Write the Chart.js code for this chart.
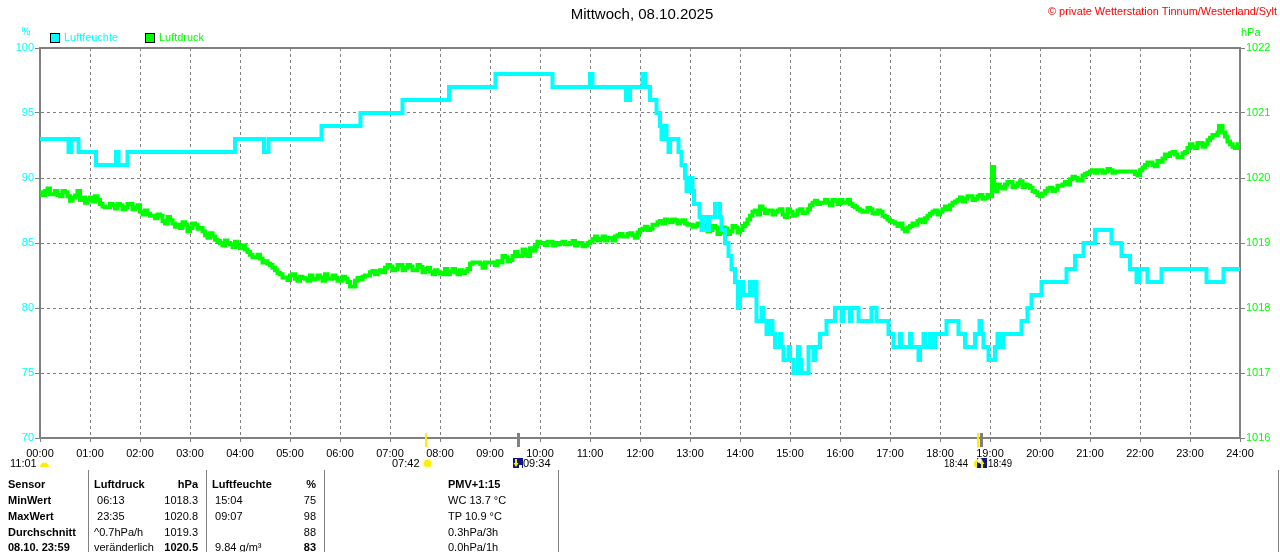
<!DOCTYPE html>
<html>
<head>
<meta charset="utf-8">
<script src="https://cdn.jsdelivr.net/npm/chart.js@4/dist/chart.umd.min.js"></script>
<style>
  html, body { margin: 0; padding: 0; background: #fff; overflow: hidden; }
  canvas { display: block; }
</style>
</head>
<body>
<canvas id="chart" width="1280" height="552"></canvas>
<script>
// Luftfeuchte (%) – change points, value holds until the next time
const humTime = [0, 0.57, 0.63, 0.77, 1.12, 1.52, 1.57, 1.75, 3.9, 4.48, 4.57, 5.63, 6.41, 7.25, 8.18, 9.11, 10.25, 11.0, 11.05, 11.72, 11.8, 12.05, 12.1,
  12.2, 12.33, 12.4, 12.43, 12.5, 12.53, 12.57, 12.6, 12.77, 12.83, 12.9, 12.93, 12.99, 13.05, 13.08, 13.19, 13.23, 13.27, 13.36, 13.38, 13.5, 13.6,
  13.63, 13.7, 13.77, 13.83, 13.9, 13.96, 14.0, 14.03, 14.07, 14.2, 14.23, 14.3, 14.33, 14.43, 14.47, 14.53, 14.6, 14.65, 14.7, 14.8, 14.83, 14.87,
  14.97, 15.0, 15.07, 15.16, 15.19, 15.23, 15.28, 15.37, 15.47, 15.5, 15.6, 15.73, 15.9, 16.03, 16.06, 16.2, 16.23, 16.37, 16.63, 16.73, 16.97, 17.07,
  17.2, 17.23, 17.4, 17.43, 17.57, 17.6, 17.67, 17.7, 17.8, 17.83, 17.9, 18.13, 18.37, 18.5, 18.7, 18.79, 18.83, 18.87, 18.97, 19.1, 19.15, 19.2,
  19.27, 19.63, 19.75, 19.83, 20.03, 20.53, 20.7, 20.87, 21.1, 21.43, 21.63, 21.8, 21.93, 21.99, 22.15, 22.43, 23.33, 23.67, 24];
const humValue = [93, 92, 93, 92, 91, 92, 91, 92, 93, 92, 93, 94, 95, 96, 97, 98, 97, 98, 97, 96, 97, 98, 97,
  96, 95, 94, 93, 94, 93, 92, 93, 92, 91, 90, 89, 90, 89, 88, 87, 86, 87, 86, 87, 88, 87,
  86, 85, 84, 83, 82, 80, 81, 82, 81, 82, 81, 82, 79, 80, 79, 78, 79, 78, 77, 78, 77, 76,
  77, 76, 75, 77, 76, 75, 75, 77, 76, 77, 78, 79, 80, 79, 80, 79, 80, 79, 80, 79, 78, 77,
  78, 77, 78, 77, 76, 77, 78, 77, 78, 77, 78, 79, 78, 77, 78, 79, 78, 77, 76, 77, 78, 77,
  78, 79, 80, 81, 82, 83, 84, 85, 86, 85, 84, 83, 82, 83, 82, 83, 82, 83, 83];

// Luftdruck (hPa) – 6-Minuten-Werte
const presTime = [0, 0.1, 0.2, 0.3, 0.4, 0.5, 0.6, 0.7, 0.8, 0.9, 1.0, 1.1, 1.2, 1.3, 1.4, 1.5, 1.6, 1.7, 1.8, 1.9,
  2.0, 2.1, 2.2, 2.3, 2.4, 2.5, 2.6, 2.7, 2.8, 2.9, 3.0, 3.1, 3.2, 3.3, 3.4, 3.5, 3.6, 3.7, 3.8, 3.9,
  4.0, 4.1, 4.2, 4.3, 4.4, 4.5, 4.6, 4.7, 4.8, 4.9, 5.0, 5.1, 5.2, 5.3, 5.4, 5.5, 5.6, 5.7, 5.8, 5.9,
  6.0, 6.1, 6.2, 6.3, 6.4, 6.5, 6.6, 6.7, 6.8, 6.9, 7.0, 7.1, 7.2, 7.3, 7.4, 7.5, 7.6, 7.7, 7.8, 7.9,
  8.0, 8.1, 8.2, 8.3, 8.4, 8.5, 8.6, 8.7, 8.8, 8.9, 9.0, 9.1, 9.2, 9.3, 9.4, 9.5, 9.6, 9.7, 9.8, 9.9,
  10.0, 10.1, 10.2, 10.3, 10.4, 10.5, 10.6, 10.7, 10.8, 10.9, 11.0, 11.1, 11.2, 11.3, 11.4, 11.5, 11.6, 11.7, 11.8, 11.9,
  12.0, 12.1, 12.2, 12.3, 12.4, 12.5, 12.6, 12.7, 12.8, 12.9, 13.0, 13.1, 13.2, 13.3, 13.4, 13.5, 13.6, 13.7, 13.8, 13.9,
  14.0, 14.1, 14.2, 14.3, 14.4, 14.5, 14.6, 14.7, 14.8, 14.9, 15.0, 15.1, 15.2, 15.3, 15.4, 15.5, 15.6, 15.7, 15.8, 15.9,
  16.0, 16.1, 16.2, 16.3, 16.4, 16.5, 16.6, 16.7, 16.8, 16.9, 17.0, 17.1, 17.2, 17.3, 17.4, 17.5, 17.6, 17.7, 17.8, 17.9,
  18.0, 18.1, 18.2, 18.3, 18.4, 18.5, 18.6, 18.7, 18.8, 18.9, 19.0, 19.04, 19.08, 19.2, 19.3, 19.4, 19.5, 19.6, 19.7, 19.8, 19.9,
  20.0, 20.1, 20.2, 20.3, 20.4, 20.5, 20.6, 20.7, 20.8, 20.9, 21.0, 21.1, 21.2, 21.3, 21.4, 21.5, 21.6, 21.7, 21.8, 21.9,
  22.0, 22.1, 22.2, 22.3, 22.4, 22.5, 22.6, 22.7, 22.8, 22.9, 23.0, 23.1, 23.2, 23.3, 23.4, 23.5, 23.58, 23.7, 23.8, 23.9, 24.0];
const presValue = [1019.78, 1019.80, 1019.75, 1019.80, 1019.72, 1019.78, 1019.65, 1019.73, 1019.66, 1019.62, 1019.70, 1019.72, 1019.60, 1019.55, 1019.60, 1019.53, 1019.58, 1019.55, 1019.60, 1019.55,
  1019.48, 1019.50, 1019.42, 1019.38, 1019.42, 1019.30, 1019.35, 1019.25, 1019.23, 1019.28, 1019.23, 1019.28, 1019.23, 1019.12, 1019.15, 1019.05, 1019.00, 1019.04, 1018.98, 1019.02,
  1018.92, 1018.90, 1018.82, 1018.78, 1018.76, 1018.72, 1018.66, 1018.58, 1018.52, 1018.47, 1018.50, 1018.45, 1018.48, 1018.45, 1018.50, 1018.45, 1018.47, 1018.52, 1018.45, 1018.46,
  1018.42, 1018.45, 1018.33, 1018.42, 1018.44, 1018.50, 1018.55, 1018.52, 1018.58, 1018.62, 1018.64, 1018.60, 1018.66, 1018.62, 1018.64, 1018.58, 1018.63, 1018.60, 1018.56, 1018.58,
  1018.54, 1018.60, 1018.56, 1018.55, 1018.58, 1018.56, 1018.68, 1018.70, 1018.68, 1018.70, 1018.70, 1018.66, 1018.70, 1018.78, 1018.74, 1018.86, 1018.80, 1018.82, 1018.92, 1018.95,
  1019.00, 1018.97, 1019.02, 1019.00, 1019.00, 1018.98, 1019.00, 1018.96, 1019.00, 1018.97, 1019.02, 1019.10, 1019.06, 1019.04, 1019.08, 1019.10, 1019.14, 1019.10, 1019.15, 1019.08,
  1019.20, 1019.25, 1019.22, 1019.28, 1019.34, 1019.36, 1019.32, 1019.35, 1019.33, 1019.30, 1019.28, 1019.27, 1019.30, 1019.25, 1019.20, 1019.24, 1019.16, 1019.22, 1019.18, 1019.24,
  1019.20, 1019.30, 1019.42, 1019.50, 1019.56, 1019.46, 1019.50, 1019.48, 1019.52, 1019.40, 1019.48, 1019.44, 1019.52, 1019.47, 1019.58, 1019.65, 1019.62, 1019.66, 1019.58, 1019.65,
  1019.66, 1019.62, 1019.60, 1019.55, 1019.50, 1019.48, 1019.52, 1019.45, 1019.48, 1019.40, 1019.34, 1019.30, 1019.30, 1019.18, 1019.26, 1019.28, 1019.36, 1019.38, 1019.45, 1019.50,
  1019.48, 1019.56, 1019.58, 1019.64, 1019.70, 1019.68, 1019.72, 1019.68, 1019.74, 1019.70, 1019.72, 1020.17, 1019.80, 1019.86, 1019.90, 1019.94, 1019.88, 1019.95, 1019.90, 1019.85, 1019.78,
  1019.72, 1019.80, 1019.85, 1019.82, 1019.88, 1019.94, 1019.98, 1020.00, 1019.96, 1020.06, 1020.10, 1020.08, 1020.12, 1020.10, 1020.12, 1020.10, 1020.10, 1020.10, 1020.10, 1020.06,
  1020.12, 1020.20, 1020.24, 1020.18, 1020.25, 1020.36, 1020.38, 1020.36, 1020.32, 1020.40, 1020.52, 1020.46, 1020.54, 1020.52, 1020.62, 1020.66, 1020.80, 1020.64, 1020.52, 1020.46, 1020.50];

// Luftdruck – Zwischenwerte (Zacken zwischen den 6-Minuten-Werten)
const presJitterTime = [0.05, 0.15, 0.35, 0.45, 0.55, 0.65, 0.75, 0.85, 0.95, 1.05, 1.15, 1.25, 1.45, 1.55, 1.65, 1.75, 1.85, 1.95,
  2.05, 2.15, 2.35, 2.45, 2.55, 2.65, 2.75, 2.85, 2.95, 3.05, 3.15, 3.25, 3.35, 3.45, 3.55, 3.65, 3.75, 3.85, 3.95,
  4.05, 4.15, 4.25, 4.35, 4.45, 4.55, 4.65, 4.75, 4.85, 4.95, 5.05, 5.15, 5.25, 5.35, 5.45, 5.55, 5.65, 5.75, 5.85, 5.95,
  6.05, 6.15, 6.35, 6.45, 6.55, 6.65, 6.75, 6.85, 6.95, 7.05, 7.15, 7.25, 7.35, 7.45, 7.55, 7.65, 7.75, 7.85, 7.95,
  8.05, 8.15, 8.25, 8.35, 8.45, 8.55, 8.65, 8.75, 8.85, 8.95, 9.05, 9.15, 9.25, 9.35, 9.45, 9.55, 9.65, 9.75, 9.85, 9.95,
  10.05, 10.15, 10.25, 10.35, 10.45, 10.55, 10.65, 10.75, 10.85, 10.95, 11.05, 11.15, 11.25, 11.35, 11.45, 11.55, 11.65, 11.75, 11.85, 11.95,
  12.05, 12.15, 12.25, 12.35, 12.45, 12.55, 12.65, 12.75, 12.85, 12.95, 13.05, 13.15, 13.25, 13.35, 13.45, 13.55, 13.65, 13.75, 13.85, 13.95,
  14.05, 14.15, 14.25, 14.35, 14.45, 14.55, 14.65, 14.75, 14.85, 14.95, 15.05, 15.15, 15.25, 15.35, 15.45, 15.55, 15.65, 15.75, 15.85, 15.95,
  16.05, 16.15, 16.25, 16.35, 16.45, 16.55, 16.65, 16.75, 16.85, 16.95, 17.05, 17.15, 17.25, 17.35, 17.45, 17.55, 17.65, 17.75, 17.85, 17.95,
  18.05, 18.15, 18.25, 18.35, 18.45, 18.55, 18.65, 18.75, 18.85, 18.95, 19.15, 19.25, 19.35, 19.45, 19.55, 19.65, 19.75, 19.85, 19.95,
  20.05, 20.15, 20.25, 20.35, 20.45, 20.55, 20.65, 20.75, 20.85, 20.95, 21.05, 21.15, 21.25, 21.35, 21.45, 21.55, 21.65, 21.75, 21.85, 21.95,
  22.05, 22.15, 22.25, 22.35, 22.45, 22.55, 22.65, 22.75, 22.85, 22.95, 23.05, 23.15, 23.25, 23.35, 23.45, 23.55, 23.65, 23.75, 23.85, 23.95];
const presJitterValue = [1019.74, 1019.84, 1019.74, 1019.80, 1019.72, 1019.70, 1019.80, 1019.70, 1019.66, 1019.64, 1019.66, 1019.56, 1019.58, 1019.60, 1019.52, 1019.60, 1019.52, 1019.58,
  1019.44, 1019.45, 1019.44, 1019.34, 1019.40, 1019.30, 1019.28, 1019.32, 1019.18, 1019.30, 1019.22, 1019.18, 1019.08, 1019.10, 1019.03, 1018.96, 1019.00, 1018.94, 1018.96,
  1018.96, 1018.86, 1018.78, 1018.82, 1018.70, 1018.68, 1018.62, 1018.54, 1018.47, 1018.43, 1018.52, 1018.42, 1018.46, 1018.42, 1018.44, 1018.50, 1018.42, 1018.45, 1018.50, 1018.42,
  1018.48, 1018.40, 1018.46, 1018.48, 1018.50, 1018.57, 1018.56, 1018.55, 1018.66, 1018.58, 1018.66, 1018.58, 1018.66, 1018.58, 1018.66, 1018.55, 1018.62, 1018.52, 1018.55,
  1018.52, 1018.52, 1018.60, 1018.52, 1018.54, 1018.60, 1018.70, 1018.70, 1018.62, 1018.70, 1018.70, 1018.72, 1018.80, 1018.72, 1018.80, 1018.80, 1018.90, 1018.80, 1018.88, 1019.02,
  1019.00, 1019.02, 1018.96, 1018.98, 1019.02, 1018.98, 1019.03, 1019.00, 1018.95, 1019.00, 1019.06, 1019.04, 1019.10, 1019.08, 1019.04, 1019.12, 1019.10, 1019.14, 1019.12, 1019.16,
  1019.22, 1019.20, 1019.28, 1019.32, 1019.30, 1019.35, 1019.36, 1019.30, 1019.35, 1019.28, 1019.25, 1019.30, 1019.27, 1019.18, 1019.26, 1019.14, 1019.24, 1019.14, 1019.26, 1019.16,
  1019.26, 1019.36, 1019.48, 1019.44, 1019.52, 1019.50, 1019.44, 1019.50, 1019.44, 1019.52, 1019.42, 1019.50, 1019.46, 1019.52, 1019.62, 1019.60, 1019.62, 1019.62, 1019.66, 1019.60,
  1019.62, 1019.66, 1019.57, 1019.52, 1019.48, 1019.54, 1019.46, 1019.50, 1019.42, 1019.36, 1019.32, 1019.26, 1019.22, 1019.24, 1019.30, 1019.34, 1019.32, 1019.42, 1019.48, 1019.44,
  1019.52, 1019.52, 1019.62, 1019.66, 1019.64, 1019.72, 1019.66, 1019.72, 1019.68, 1019.74, 1019.90, 1019.84, 1019.94, 1019.86, 1019.92, 1019.86, 1019.88, 1019.80, 1019.74,
  1019.76, 1019.84, 1019.80, 1019.88, 1019.90, 1019.90, 1020.02, 1019.96, 1020.04, 1020.08, 1020.12, 1020.12, 1020.08, 1020.14, 1020.08, 1020.10, 1020.10, 1020.10, 1020.10, 1020.04,
  1020.16, 1020.24, 1020.20, 1020.26, 1020.30, 1020.34, 1020.40, 1020.32, 1020.38, 1020.46, 1020.48, 1020.54, 1020.48, 1020.58, 1020.66, 1020.70, 1020.70, 1020.56, 1020.48, 1020.52];

// Sonne / Mond Marker (Stunden)
const sunTimes = [7.7, 18.733];
const moonTimes = [9.567, 18.817];

// Tabelle
const tableRows = ['Sensor', 'MinWert', 'MaxWert', 'Durchschnitt', '08.10. 23:59'];
const pressureText = ['Luftdruck', ' 06:13', ' 23:35', '^0.7hPa/h', 'veränderlich'];
const pressureVals = ['hPa', '1018.3', '1020.8', '1019.3', '1020.5'];
const humidityText = ['Luftfeuchte', ' 15:04', ' 09:07', '', ' 9.84 g/m³'];
const humidityVals = ['%', '75', '98', '88', '83'];
const extraText = ['PMV+1:15', 'WC 13.7 °C', 'TP 10.9 °C', '0.3hPa/3h', '0.0hPa/1h'];

const CYAN = '#00ffff';
const GREEN = '#00ff00';
const GRAY = '#808080';
const FONT = '"Liberation Sans", Arial, sans-serif';

const humidity = humTime.map((t, i) => ({ x: t, y: humValue[i] }));
const pressure = presTime.map((t, i) => ({ x: t, y: presValue[i] }))
  .concat(presJitterTime.map((t, i) => ({ x: t, y: presJitterValue[i] })))
  .sort((a, b) => a.x - b.x);

const pad = (n) => String(n).padStart(2, '0');

const frame = {
  id: 'frame',
  beforeDatasetsDraw(chart) {
    const { ctx, chartArea: a } = chart;
    ctx.save();
    ctx.strokeStyle = GRAY;
    ctx.lineWidth = 2;
    ctx.strokeRect(a.left, a.top, a.right - a.left, a.bottom - a.top);
    ctx.restore();
  },
};

function text(ctx, str, x, y, opts = {}) {
  ctx.font = (opts.bold ? 'bold ' : '') + (opts.size || 11) + 'px ' + FONT;
  ctx.fillStyle = opts.color || '#000';
  ctx.textAlign = opts.align || 'left';
  ctx.textBaseline = 'middle';
  if (opts.max) ctx.fillText(str, x, y, opts.max);
  else ctx.fillText(str, x, y);
}

function navyBox(ctx, x, y) {
  ctx.fillStyle = '#101880';
  ctx.fillRect(x, y, 10, 10);
}

const decor = {
  id: 'decor',
  afterDraw(chart) {
    const { ctx, scales } = chart;
    const xs = scales.x;
    ctx.save();

    // Titel und Copyright
    text(ctx, 'Mittwoch, 08.10.2025', 642, 15, { size: 15, align: 'center', max: 150 });
    text(ctx, '© private Wetterstation Tinnum/Westerland/Sylt', 1277, 12, { size: 11, color: '#ff0000', align: 'right', max: 229 });

    // Legende
    ctx.lineWidth = 1;
    ctx.strokeStyle = '#000';
    ctx.fillStyle = CYAN;
    ctx.fillRect(50.5, 33.5, 9, 9);
    ctx.strokeRect(50.5, 33.5, 9, 9);
    text(ctx, 'Luftfeuchte', 64, 38, { color: CYAN, max: 54 });
    ctx.fillStyle = GREEN;
    ctx.fillRect(145.5, 33.5, 9, 9);
    ctx.strokeRect(145.5, 33.5, 9, 9);
    text(ctx, 'Luftdruck', 159, 38, { color: GREEN, max: 45 });

    // Einheiten
    text(ctx, '%', 26, 32, { color: CYAN, size: 10, align: 'center' });
    text(ctx, 'hPa', 1241, 33, { color: GREEN });

    // Sonnen- und Mondmarker
    sunTimes.forEach((t) => {
      const x = Math.round(xs.getPixelForValue(t));
      ctx.fillStyle = '#ffee00';
      ctx.fillRect(x, 433, 2, 14);
    });
    moonTimes.forEach((t) => {
      const x = Math.round(xs.getPixelForValue(t));
      ctx.fillStyle = GRAY;
      ctx.fillRect(x - 1, 433, 3, 14);
    });

    // Zeiten unter der Achse
    text(ctx, '11:01', 10, 464, { max: 28 });
    ctx.fillStyle = '#ffee00';
    ctx.beginPath();
    ctx.arc(44.5, 467, 4.5, Math.PI, 0);
    ctx.fill();

    text(ctx, '07:42', 392, 464, { max: 28 });
    ctx.fillStyle = '#ffff88';
    ctx.beginPath();
    ctx.arc(427.5, 463.5, 5, 0, Math.PI * 2);
    ctx.fill();
    ctx.fillStyle = '#ffee00';
    ctx.beginPath();
    ctx.arc(427.5, 463.5, 3.5, 0, Math.PI * 2);
    ctx.fill();

    navyBox(ctx, 513, 458);
    ctx.fillStyle = '#ffee00';
    ctx.fillRect(515, 459, 2, 5);
    ctx.beginPath();
    ctx.moveTo(513.5, 463); ctx.lineTo(518.5, 463); ctx.lineTo(516, 467);
    ctx.fill();
    ctx.fillStyle = '#fff';
    ctx.fillRect(519, 465, 3, 3);
    text(ctx, '09:34', 523, 464, { max: 28 });

    text(ctx, '18:44', 944, 464, { max: 24 });
    ctx.fillStyle = '#ffee00';
    ctx.beginPath();
    ctx.arc(978, 464, 4, Math.PI / 2, Math.PI * 1.5);
    ctx.fill();
    navyBox(ctx, 977, 458);
    ctx.fillStyle = '#ffffff';
    ctx.beginPath();
    ctx.arc(979.5, 460.5, 2.5, 0, Math.PI * 2);
    ctx.fill();
    ctx.fillStyle = '#ffee00';
    ctx.fillRect(981, 463, 2, 5);
    ctx.beginPath();
    ctx.moveTo(979.5, 464); ctx.lineTo(984.5, 464); ctx.lineTo(982, 460);
    ctx.fill();
    text(ctx, '18:49', 988, 464, { max: 24 });

    // Tabelle
    const rowY = [485, 501, 517, 533, 548];
    ctx.fillStyle = GRAY;
    [88, 206, 324, 558, 1278].forEach((x) => ctx.fillRect(x, 470, 1, 82));
    rowY.forEach((y, i) => {
      const head = i === 0;
      const last = i === rowY.length - 1;
      text(ctx, tableRows[i], 8, y, { bold: true });
      text(ctx, pressureText[i], 94, y, { bold: head });
      text(ctx, pressureVals[i], 198, y, { bold: head || last, align: 'right' });
      text(ctx, humidityText[i], 212, y, { bold: head });
      text(ctx, humidityVals[i], 316, y, { bold: head || last, align: 'right' });
      text(ctx, extraText[i], 448, y, { bold: head });
    });

    ctx.restore();
  },
};

const settings = {
  type: 'line',
  data: {
    datasets: [
      {
        label: 'Luftfeuchte',
        data: humidity,
        borderColor: CYAN,
        borderWidth: 4,
        stepped: true,
        pointRadius: 0,
        yAxisID: 'y',
      },
      {
        label: 'Luftdruck',
        data: pressure,
        borderColor: GREEN,
        borderWidth: 4,
        stepped: true,
        pointRadius: 0,
        yAxisID: 'y1',
      },
    ],
  },
  options: {
    responsive: false,
    animation: false,
    devicePixelRatio: 1,
    layout: { padding: { top: 48, left: 0, right: 0, bottom: 0 } },
    plugins: {
      legend: { display: false },
      title: { display: false },
      tooltip: { enabled: false },
    },
    scales: {
      x: {
        type: 'linear',
        min: 0,
        max: 24,
        afterFit: (scale) => { scale.height = 114; },
        ticks: {
          stepSize: 1,
          autoSkip: false,
          maxRotation: 0,
          color: '#000',
          padding: 5,
          font: { family: FONT, size: 11 },
          callback: (v) => pad(v) + ':00',
        },
        grid: { color: GRAY, lineWidth: 1, tickLength: 4, tickColor: GRAY, tickBorderDash: [] },
        border: { color: GRAY, width: 2, dash: [3, 3] },
      },
      y: {
        position: 'left',
        min: 70,
        max: 100,
        afterFit: (scale) => { scale.width = 40; },
        ticks: {
          stepSize: 5,
          color: CYAN,
          padding: 1,
          font: { family: FONT, size: 11 },
        },
        grid: { color: GRAY, lineWidth: 1, tickLength: 5, tickColor: GRAY, tickBorderDash: [] },
        border: { color: GRAY, width: 2, dash: [3, 3] },
      },
      y1: {
        position: 'right',
        min: 1016,
        max: 1022,
        afterFit: (scale) => { scale.width = 40; },
        ticks: {
          stepSize: 1,
          color: GREEN,
          padding: 1,
          font: { family: FONT, size: 11 },
          callback: (v) => String(v),
        },
        grid: { drawOnChartArea: false, tickLength: 5, tickColor: GRAY },
        border: { color: GRAY, width: 2 },
      },
    },
  },
  plugins: [frame, decor],
};

new Chart(document.getElementById('chart'), settings);
</script>
</body>
</html>
